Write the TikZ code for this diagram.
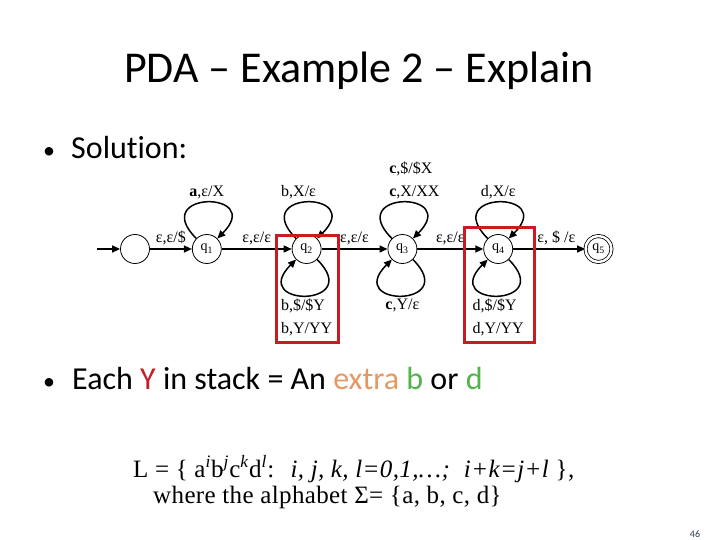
\documentclass[tikz,border=0pt]{standalone}
\usepackage{fontspec}
\setmainfont{Carlito}[Ligatures=NoCommon]
\newfontfamily\lblfont{Liberation Serif}
\newfontfamily\langfont{Liberation Serif}[LetterSpace=1.5]
\usetikzlibrary{positioning, arrows.meta, calc}
\definecolor{boxred}{RGB}{200,28,34}
\definecolor{ered}{RGB}{196,30,40}
\definecolor{eorange}{RGB}{228,152,100}
\definecolor{egreen}{RGB}{80,180,72}
\definecolor{pagenum}{RGB}{40,56,80}

\begin{document}
\begin{tikzpicture}[
  x=1pt, y=1pt,
  >={Triangle[length=8pt,width=7pt]},
  state/.style={draw, circle, line width=0.8pt, minimum size=29pt, inner sep=0pt, font=\lblfont\fontsize{14}{14}\selectfont},
  accept/.style={state, double, double distance=2.4pt, minimum size=26pt},
  trans/.style={->, line width=1.5pt},
  lbl/.style={font=\lblfont\fontsize{16}{16}\selectfont, inner sep=3pt},
  lbltwo/.style={lbl, align=left, font=\lblfont\fontsize{16}{23}\selectfont},
  toploop/.style={out=135, in=45, distance=68pt},
  botloop/.style={out=-45, in=-135, distance=68pt},
  redbox/.style={draw=boxred, line width=3pt},
  slide/.style={font=\fontsize{32}{38}\selectfont, anchor=base west, inner sep=0pt},
  dot/.style={font=\fontsize{24}{28}\selectfont, anchor=base},
  lang/.style={font=\langfont\fontsize{25}{28}\selectfont, anchor=base west, inner sep=0pt},
]
\useasboundingbox (0,0) rectangle (720,-540);

% ---- title and bullets ----
\node[font=\fontsize{44}{52}\selectfont, anchor=base] (title) at (359,-83) {PDA – Example 2 – Explain};
\node[dot] (dot1) at (49,-159) {•};
\node[slide] (sol) at (71,-159) {Solution:};

% ---- states ----
\node[state] (q0) at (135,-249) {};
\node[state, right=42pt of q0] (q1) {q\textsubscript{1}};
\node[state, right=70pt of q1] (q2) {q\textsubscript{2}};
\node[state, right=66pt of q2] (q3) {q\textsubscript{3}};
\node[state, right=66pt of q3] (q4) {q\textsubscript{4}};
\node[accept, right=72pt of q4] (q5) {q\textsubscript{5}};
\coordinate[left=23pt of q0] (init);

% ---- transitions ----
\draw[trans] (init) -- (q0);
\draw[trans] (q0) -- node[lbl, above] {ε,ε/\$} (q1);
\draw[trans] (q1) -- node[lbl, above] {ε,ε/ε} (q2);
\draw[trans] (q2) -- node[lbl, above] {ε,ε/ε} (q3);
\draw[trans] (q3) -- node[lbl, above] {ε,ε/ε} (q4);
\draw[trans] (q4) -- node[lbl, above, pos=0.6] {ε, \$ /ε} (q5);

% self loops
\draw[trans] (q1) to[toploop] node[lbl, above] {\textbf{a},ε/X} (q1);
\draw[trans] (q2) to[toploop] node[lbl, above, xshift=-8pt] {b,X/ε} (q2);
\draw[trans] (q2) to[botloop] node[lbltwo, below] {b,\$/\$Y\\b,Y/YY} (q2);
\draw[trans] (q3) to[toploop] node[lbltwo, above, xshift=12pt] {\textbf{c},\$/\$X\\\textbf{c},X/XX} (q3);
\draw[trans] (q3) to[botloop] node[lbl, below] {\textbf{c},Y/ε} (q3);
\draw[trans] (q4) to[toploop] node[lbl, above] {d,X/ε} (q4);
\draw[trans] (q4) to[botloop] node[lbltwo, below] {d,\$/\$Y\\d,Y/YY} (q4);

% ---- highlight boxes ----
\draw[redbox] ($(q2)+(-30,14)$) rectangle ($(q2)+(32,-93)$);
\draw[redbox] ($(q4)+(-34,21)$) rectangle ($(q4)+(36,-93)$);

% ---- explanation ----
\node[dot] (dot2) at (49,-389) {•};
\node[slide] (each) at (72,-389) {Each \textcolor{ered}{Y} in stack = An \textcolor{eorange}{extra} \textcolor{egreen}{b} or \textcolor{egreen}{d}};
\node[lang] (lang) at (133,-477) {L = \{ a\textsuperscript{\textit{i}}b\textsuperscript{\textit{j}}c\textsuperscript{\textit{k}}d\textsuperscript{\textit{l}}:\hspace{0.3em} \textit{i, j, k, l=0,1,…;\hspace{0.3em} i+k=j+l} \},};
\node[lang] (alpha) at (153,-503) {where the alphabet Σ= \{a, b, c, d\}};

\node[font=\fontsize{10}{12}\selectfont, text=pagenum, anchor=base] (page) at (695,-537) {46};

\end{tikzpicture}
\end{document}
